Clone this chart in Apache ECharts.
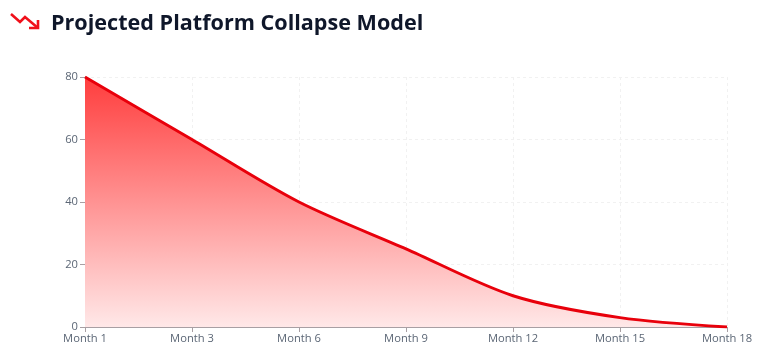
<!DOCTYPE html>
<html><head><meta charset="utf-8">
<style>html,body{margin:0;padding:0;background:#fff}#c{width:767px;height:363px}</style>
<script src="https://cdn.jsdelivr.net/npm/echarts@6/dist/echarts.min.js"></script>
</head><body><div id="c"></div>
<script>
const titleText = 'Projected Platform Collapse Model';
const categories = ['Month 1','Month 3','Month 6','Month 9','Month 12','Month 15','Month 18'];
const values = [80,60,40,25,10,3,0];
const chart = echarts.init(document.getElementById('c'), null, {renderer:'canvas'});
const iconStyle = {stroke:'#f0101a', lineWidth:2.6, fill:null, lineJoin:'miter'};
chart.setOption({
  animation:false,
  backgroundColor:'#fff',
  title:{text:titleText,left:46,top:8,textStyle:{fontFamily:'"Open Sans"',fontSize:21.6,fontWeight:700,color:'#0f172a'}},
  grid:{left:85,right:40,top:77,bottom:36},
  xAxis:{type:'category',boundaryGap:false,data:categories,
    axisLine:{lineStyle:{color:'#a89fa3',width:1}},
    axisTick:{show:true,alignWithLabel:true,length:5,lineStyle:{color:'#a89fa3'}},
    axisLabel:{interval:0,color:'#5b6675',fontFamily:'"Open Sans"',fontSize:11.2,margin:6,hideOverlap:false},
    splitLine:{show:true,lineStyle:{color:'#f1f1f1',type:[3,3],width:1}}},
  yAxis:{type:'value',min:0,max:80,interval:20,
    axisLine:{show:true,lineStyle:{color:'#a89fa3',width:1}},
    axisTick:{show:true,length:5,lineStyle:{color:'#a89fa3'}},
    axisLabel:{color:'#5b6675',fontFamily:'"Open Sans"',fontSize:11.2,margin:7},
    splitLine:{show:true,lineStyle:{color:'#f1f1f1',type:[3,3],width:1}}},
  series:[{type:'line',data:values,showSymbol:false,smooth:0.3,
    lineStyle:{color:'#e8000b',width:2.9},
    areaStyle:{opacity:1,color:new echarts.graphic.LinearGradient(0,0,0,1,[
      {offset:0,color:'#ff3d3d'},{offset:1,color:'#ffe8e8'}])}}],
  graphic:[
    {type:'polyline',shape:{points:[[11,14],[20,22],[25,17],[38,28]]},style:iconStyle},
    {type:'polyline',shape:{points:[[29,28],[38,28],[38,20]]},style:iconStyle}
  ]
});
</script></body></html>
